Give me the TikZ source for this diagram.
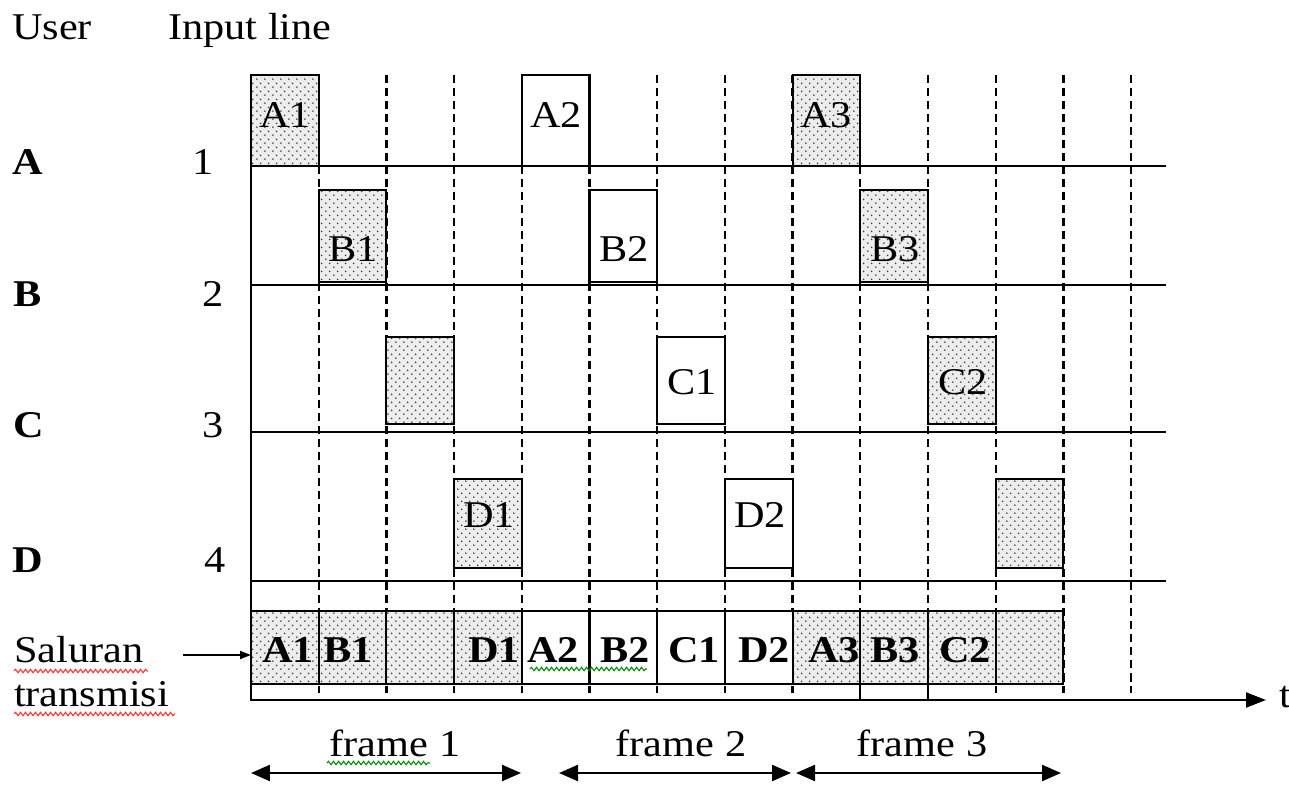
\documentclass[tikz,border=0pt]{standalone}
\usepackage{fontspec}
\setmainfont{Liberation Serif}[FakeStretch=1.12]
\usetikzlibrary{arrows.meta,patterns.meta,decorations.pathmorphing}

% stippled fill used for the shaded time slots
\tikzdeclarepattern{
  name=stipple,
  type=uncolored,
  bounding box={(0pt,0pt) and (4.4pt,4.4pt)},
  tile size={(4.4pt,4.4pt)},
  code={
    \fill (1.1pt,1.1pt) circle (0.55pt);
    \fill (3.3pt,3.3pt) circle (0.55pt);
  }
}

\tikzset{
  lin/.style={line width=1.2pt},
  gridline/.style={line width=1.3pt, dash pattern=on 4.8pt off 2.6pt},
  cell/.style={draw, line width=1.2pt, inner sep=0pt, outer sep=0pt,
    minimum width=1.354cm, anchor=south west, fill=white},
  shaded/.style={cell, preaction={fill=gray!14}, pattern=stipple, pattern color=black!75},
  txt/.style={font=\fontsize{21.5}{26}\selectfont, inner sep=0pt, outer sep=0pt, anchor=base},
  frarrow/.style={line width=1.3pt, {Triangle[length=0.38cm,width=0.32cm]}-{Triangle[length=0.38cm,width=0.32cm]}},
  wavy/.style={line width=0.6pt, decorate, decoration={snake, segment length=0.1cm, amplitude=0.035cm}}
}

\begin{document}
\begin{tikzpicture}[x=0.02cm, y=-0.02cm]
\useasboundingbox (0,0) rectangle (1289,787);

% column headings
\node[txt] (huser) at (52,40) {User};
\node[txt] (hinput) at (250,40) {Input line};

% slot boundaries (dashed)
\foreach \k in {1,...,13}
  \draw[gridline] ({251+\k*67.7},75) -- ({251+\k*67.7},693);

% user lines
\coordinate (lA0) at (251,166); \coordinate (lA1) at (1166,166);
\coordinate (lB0) at (251,285); \coordinate (lB1) at (1166,285);
\coordinate (lC0) at (251,432); \coordinate (lC1) at (1166,432);
\coordinate (lD0) at (251,581); \coordinate (lD1) at (1166,581);
\draw[lin] (lA0) -- (lA1);
\draw[lin] (lB0) -- (lB1);
\draw[lin] (lC0) -- (lC1);
\draw[lin] (lD0) -- (lD1);

% row labels
\node[txt] (uA) at (28,175) {\textbf{A}};  \node[txt] (nA) at (203,175) {1};
\node[txt] (uB) at (28,307) {\textbf{B}};  \node[txt] (nB) at (213,307) {2};
\node[txt] (uC) at (29,438) {\textbf{C}};  \node[txt] (nC) at (213,438) {3};
\node[txt] (uD) at (28,572) {\textbf{D}};  \node[txt] (nD) at (215,572) {4};

% user A
\node[shaded, minimum height=1.82cm] (A1) at (251,166) {};
\node[cell,   minimum height=1.82cm] (A2) at ({251+4*67.7},166) {};
\node[shaded, minimum height=1.82cm] (A3) at ({251+8*67.7},166) {};
\node[txt] (tA1) at (285,128) {A1};
\node[txt] (tA2) at (556,128) {A2};
\node[txt] (tA3) at (826,128) {A3};

% user B
\node[shaded, minimum height=1.84cm] (B1) at ({251+1*67.7},282) {};
\node[cell,   minimum height=1.84cm] (B2) at ({251+5*67.7},282) {};
\node[shaded, minimum height=1.84cm] (B3) at ({251+9*67.7},282) {};
\node[txt] (tB1) at (353,262) {B1};
\node[txt] (tB2) at (624,262) {B2};
\node[txt] (tB3) at (895,262) {B3};

% user C
\node[shaded, minimum height=1.74cm] (C0) at ({251+2*67.7},424) {};
\node[cell,   minimum height=1.74cm] (C1) at ({251+6*67.7},424) {};
\node[shaded, minimum height=1.74cm] (C2) at ({251+10*67.7},424) {};
\node[txt] (tC1) at (692,395) {C1};
\node[txt] (tC2) at (963,395) {C2};

% user D
\node[shaded, minimum height=1.78cm] (D1) at ({251+3*67.7},568) {};
\node[cell,   minimum height=1.78cm] (D2) at ({251+7*67.7},568) {};
\node[shaded, minimum height=1.78cm] (D3) at ({251+11*67.7},568) {};
\node[txt] (tD1) at (489,527) {D1};
\node[txt] (tD2) at (760,527) {D2};

% transmission line: twelve slots
\foreach \k in {0,...,3}
  \node[shaded, minimum height=1.46cm] (T\k) at ({251+\k*67.7},684) {};
\foreach \k in {4,...,7}
  \node[cell, minimum height=1.46cm] (T\k) at ({251+\k*67.7},684) {};
\foreach \k in {8,...,11}
  \node[shaded, minimum height=1.46cm] (T\k) at ({251+\k*67.7},684) {};
\node[txt] (sA1) at (288,662) {\textbf{A1}};
\node[txt] (sB1) at (348,662) {\textbf{B1}};
\node[txt] (sD1) at (494,662) {\textbf{D1}};
\node[txt] (sA2) at (553,662) {\textbf{A2}};
\node[txt] (sB2) at (625,662) {\textbf{B2}};
\node[txt] (sC1) at (694,662) {\textbf{C1}};
\node[txt] (sD2) at (764,662) {\textbf{D2}};
\node[txt] (sA3) at (834,662) {\textbf{A3}};
\node[txt] (sB3) at (895,662) {\textbf{B3}};
\node[txt] (sC2) at (965,662) {\textbf{C2}};
\draw[lin] (T9.south west) -- ++(0,16);
\draw[lin] (T10.south west) -- ++(0,16);

% time axis
\coordinate (top) at (251,75);
\coordinate (orig) at (251,700);
\coordinate (tend) at (1266,700);
\draw[lin, -{Triangle[length=0.4cm,width=0.3cm]}] (top) -- (orig) -- (tend);
\node[txt, anchor=base west] (tlabel) at (1279,707) {t};

% transmission label and its arrow
\node[txt, anchor=base west] (sal) at (14,662) {Saluran};
\node[txt, anchor=base west] (trm) at (14,706) {transmisi};
\coordinate (salarr) at (183,655);
\draw[line width=1pt, -{Triangle[length=0.22cm,width=0.16cm]}] (salarr) -- (salarr -| T0.west);

% frames
\node[txt] (fr1) at (395,756) {frame 1};
\node[txt] (fr2) at (681,756) {frame 2};
\node[txt] (fr3) at (922,756) {frame 3};
\coordinate (f1l) at (251,773); \coordinate (f1r) at (521,773);
\coordinate (f2l) at (559,773); \coordinate (f2r) at (791,773);
\coordinate (f3l) at (796,773); \coordinate (f3r) at (1061,773);
\draw[frarrow] (f1l) -- (f1r);
\draw[frarrow] (f2l) -- (f2r);
\draw[frarrow] (f3l) -- (f3r);

% spelling marks
\draw[wavy, red!80] (14,671) -- (148,671);
\draw[wavy, red!80] (14,714) -- (175,714);
\draw[wavy, green!55!black] (327,763) -- (430,763);
\draw[wavy, green!55!black] (530,669) -- (647,669);
\end{tikzpicture}
\end{document}
